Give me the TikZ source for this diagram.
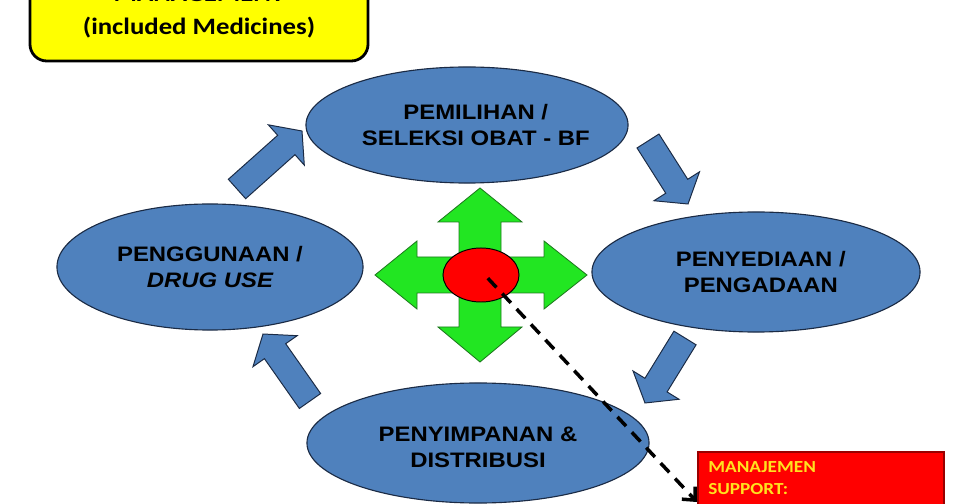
\documentclass[tikz,border=0pt]{standalone}
\usepackage{fontspec}
\usepackage{tikz}
\usetikzlibrary{arrows.meta, positioning, shapes.geometric, calc}
\newfontfamily\stagefont[FakeStretch=1.14]{Liberation Sans}
\newfontfamily\notefont[FakeStretch=1.14]{Carlito}
\definecolor{StageBlue}{HTML}{4F81BD}
\definecolor{StageEdge}{HTML}{1B2B45}
\definecolor{CrossGreen}{HTML}{22E622}
\definecolor{CrossEdge}{HTML}{1E7A1E}
\definecolor{NoteYellow}{HTML}{FFFF00}
\definecolor{SupportRed}{HTML}{FF0000}
\definecolor{SupportText}{HTML}{FFE21F}

% block arrow between two coordinates: #1 tail, #2 tip
\newcommand{\cyclearrow}[2]{%
  \path ($(#2)!0.525cm!(#1)$) coordinate (hb);
  \draw[flowarrow] ($(#1)!0.325cm!90:(#2)$) -- ($(hb)!0.325cm!90:(#2)$)
    -- ($(hb)!0.675cm!90:(#2)$) -- (#2) -- ($(hb)!0.675cm!-90:(#2)$)
    -- ($(hb)!0.325cm!-90:(#2)$) -- ($(#1)!0.325cm!-90:(#2)$) -- cycle;}

\begin{document}
\begin{tikzpicture}[x=0.025cm, y=-0.025cm,
    stage/.style={ellipse, draw=StageEdge, line width=0.8pt, fill=StageBlue, inner sep=0pt},
    stagetext/.style={font={\stagefont\bfseries\fontsize{14.9}{18.5}\selectfont}, align=center},
    flowarrow/.style={draw=StageEdge, line width=0.7pt, fill=StageBlue, line join=miter},
    titlebox/.style={rectangle, rounded corners=12pt, draw=black, line width=2pt,
      fill=NoteYellow, minimum width=8.45cm, minimum height=2.65cm},
    titletext/.style={font={\notefont\bfseries\fontsize{16.7}{23.5}\selectfont}},
    supportbox/.style={rectangle, draw=red!60!black, line width=0.8pt, fill=SupportRed,
      minimum width=6.15cm, minimum height=2.4cm},
    supporttext/.style={font={\notefont\bfseries\fontsize{12}{15.6}\selectfont},
      text=SupportText, inner sep=0pt},
    supportlink/.style={line width=2.5pt, dash pattern=on 9pt off 6pt,
      -{Straight Barb[length=7pt, width=13pt]}}
  ]
    \useasboundingbox (0,0) rectangle (960,504);

    % title box, cut by the top edge
    \node[titlebox] (title) at (199,8) {};
    \node[titletext, anchor=base] at (199,2) {MANAGEMENT};
    \node[titletext, anchor=base] at (199,35) {(included Medicines)};

    % cycle arrows
    \coordinate (a1s) at (237,189); \coordinate (a1e) at (302,131);
    \coordinate (a2s) at (648,141); \coordinate (a2e) at (688,204);
    \coordinate (a3s) at (685,338); \coordinate (a3e) at (645,403);
    \coordinate (a4s) at (310,401); \coordinate (a4e) at (263,334);
    \cyclearrow{a1s}{a1e}
    \cyclearrow{a2s}{a2e}
    \cyclearrow{a3s}{a3e}
    \cyclearrow{a4s}{a4e}

    % stages
    \node[stage, minimum width=8.05cm, minimum height=2.9cm] (sel) at (467,125) {};
    \node[stagetext] at ([xshift=0.22cm]sel.center) {PEMILIHAN /\\SELEKSI OBAT - BF};

    \node[stage, minimum width=8.2cm, minimum height=3.0cm] (proc) at (756,272) {};
    \node[stagetext] at ([xshift=0.12cm]proc.center) {PENYEDIAAN /\\PENGADAAN};

    \node[stage, minimum width=8.55cm, minimum height=3.0cm] (store) at (478,443) {};
    \node[stagetext] at ([yshift=-0.1cm]store.center) {PENYIMPANAN \&\\DISTRIBUSI};

    \node[stage, minimum width=7.65cm, minimum height=3.15cm] (use) at (210,267) {};
    \node[stagetext] at (use.center) {PENGGUNAAN /\\\itshape DRUG USE};

    % centre cross
    \draw[draw=CrossEdge, line width=0.6pt, fill=CrossGreen]
      (480,188) -- (522,222) -- (501,222) -- (501,257) -- (544,257) -- (544,241)
      -- (587,275) -- (544,309) -- (544,293) -- (501,293) -- (501,327) -- (522,327)
      -- (480,362) -- (438,327) -- (459,327) -- (459,293) -- (417,293) -- (417,309)
      -- (375,275) -- (417,241) -- (417,257) -- (459,257) -- (459,222) -- (438,222)
      -- cycle;
    \node[ellipse, draw=black, line width=0.7pt, fill=SupportRed, inner sep=0pt,
      minimum width=1.9cm, minimum height=1.35cm] (hub) at (481,275) {};

    % management support
    \node[supportbox] (support) at (821,500) {};
    \node[supporttext, anchor=base west] at (708,472) {MANAJEMEN};
    \node[supporttext, anchor=base west] at (708,494) {SUPPORT:};

    \coordinate (suptip) at (697,502);
    \draw[supportlink] ([shift={(0.17cm,-0.08cm)}]hub.center) -- (suptip);
  \end{tikzpicture}
\end{document}
